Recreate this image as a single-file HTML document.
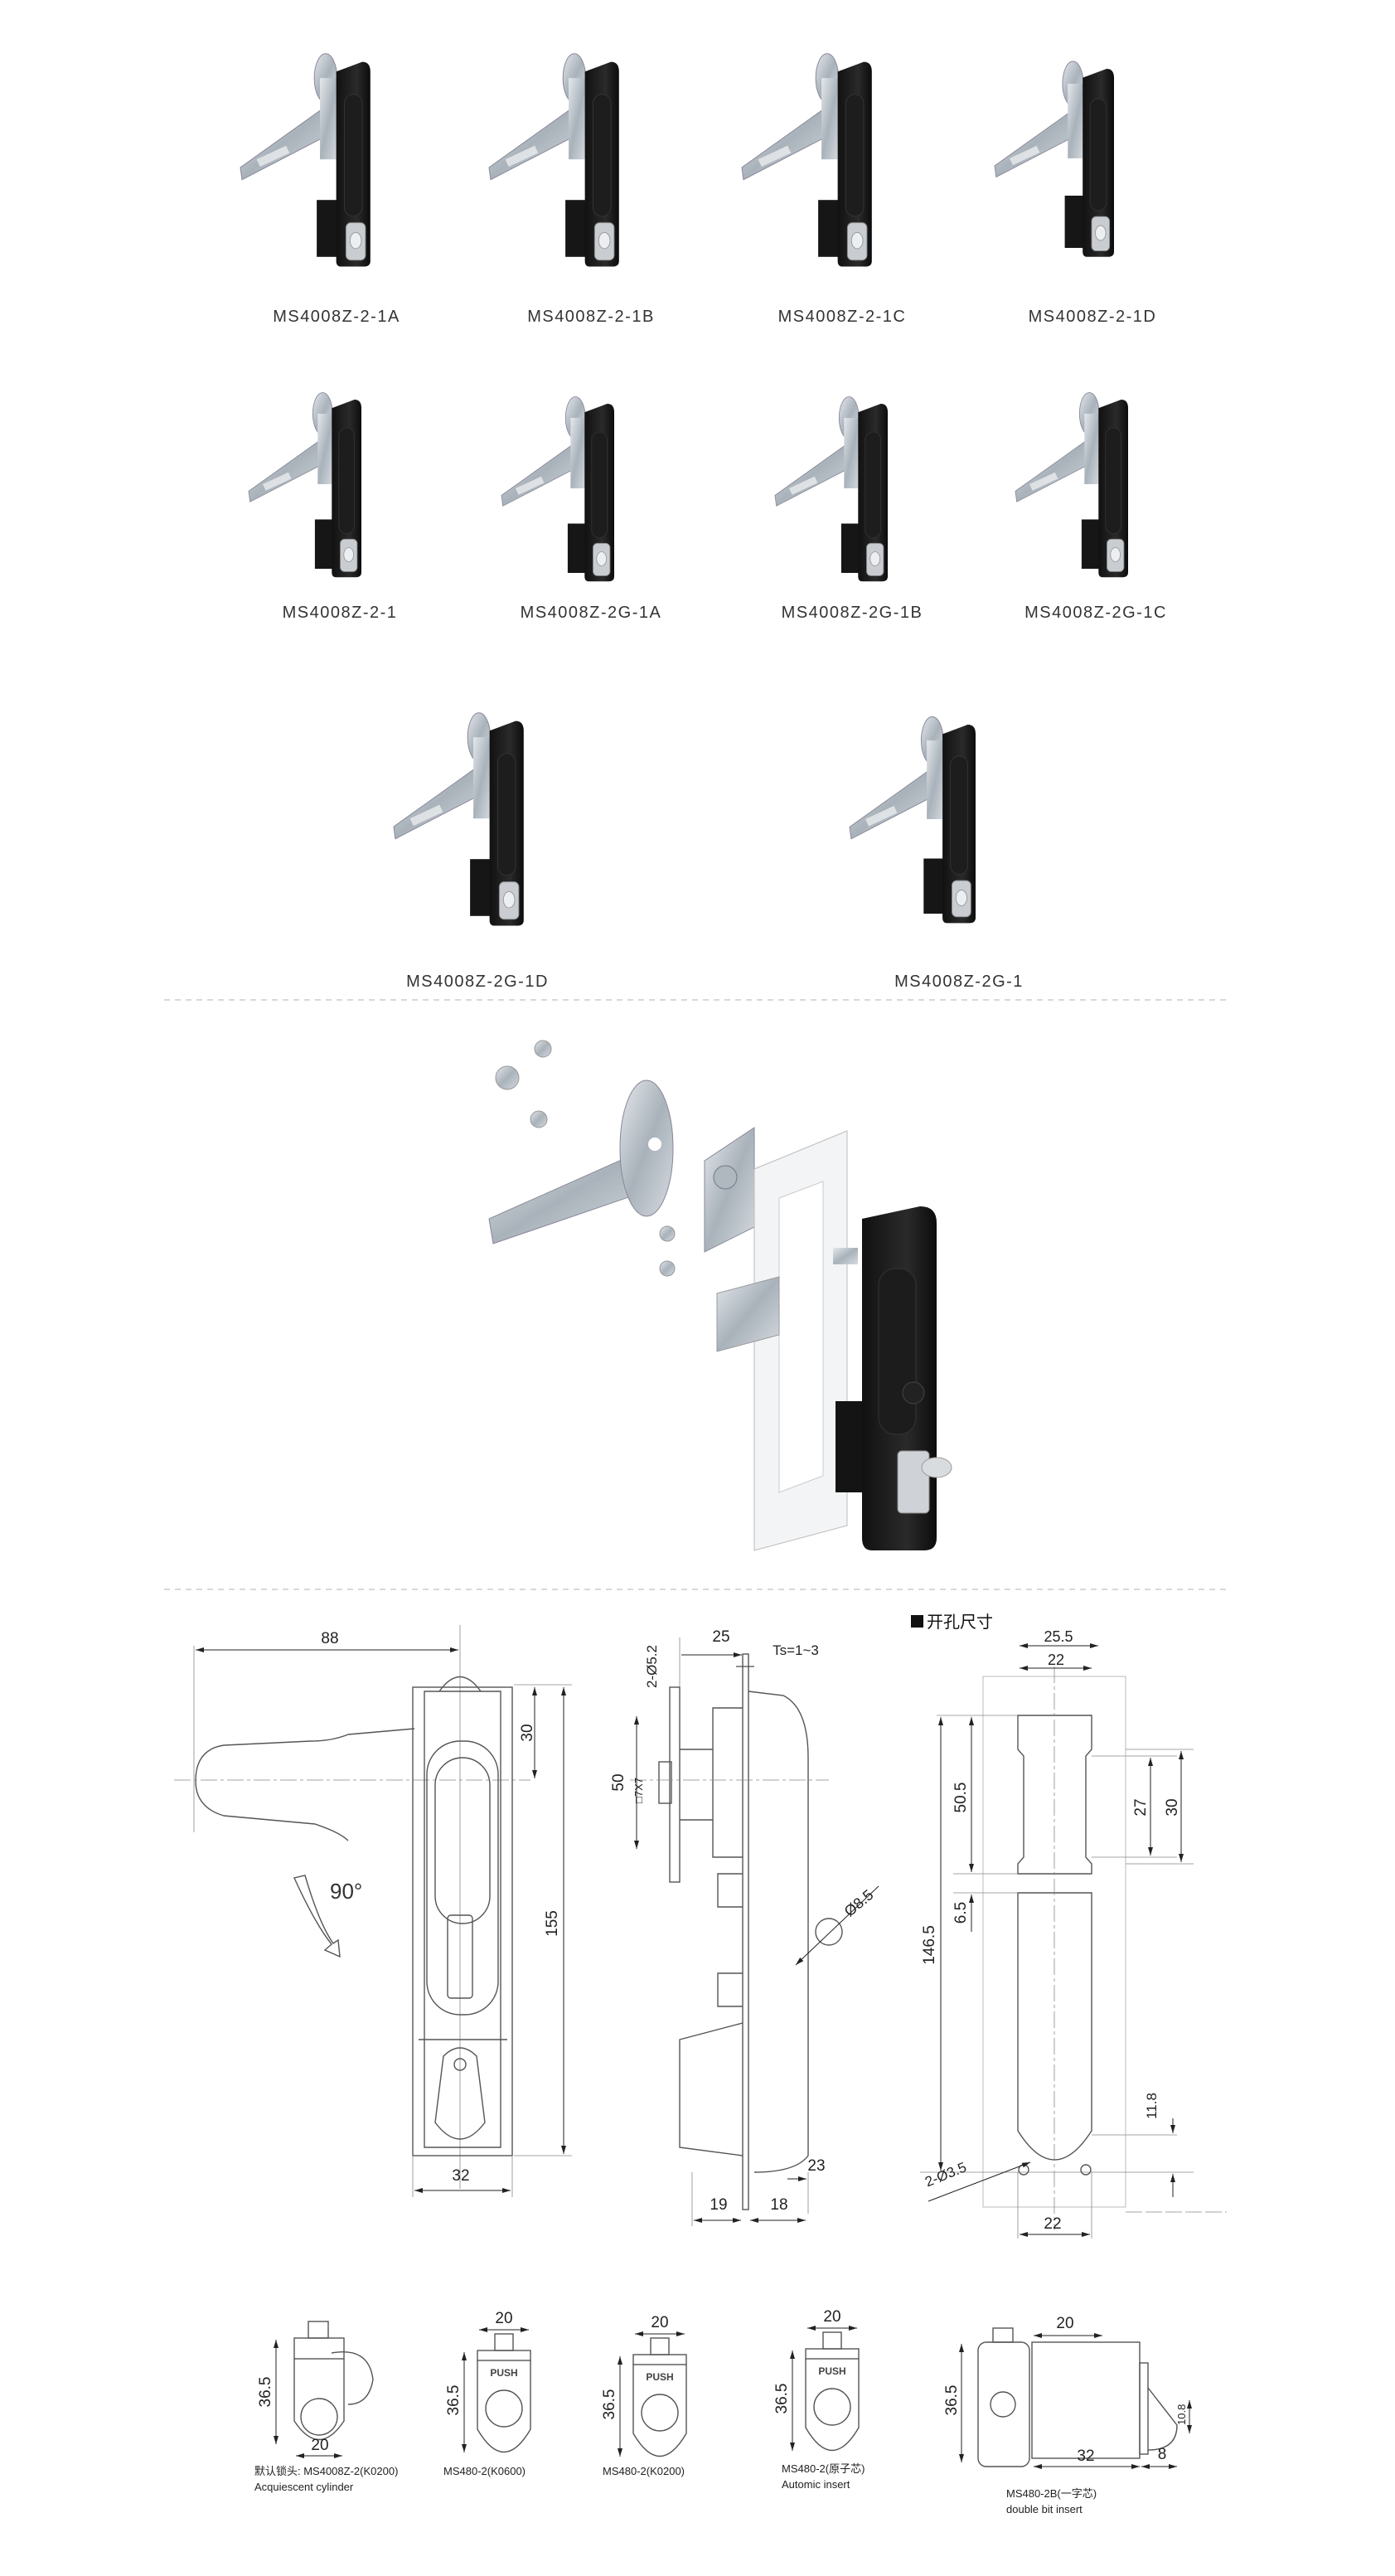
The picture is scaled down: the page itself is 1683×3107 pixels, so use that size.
<!DOCTYPE html>
<html><head><meta charset="utf-8"><style>
html,body{margin:0;padding:0;background:#fff}
svg{display:block}
.lb{font-family:"Liberation Sans","Noto Sans CJK SC",sans-serif;font-size:20px;fill:#333;letter-spacing:1.5px;text-anchor:middle}
.d{font-family:"Liberation Sans","Noto Sans CJK SC",sans-serif;font-size:19px;fill:#222;text-anchor:middle}
.s{font-family:"Liberation Sans","Noto Sans CJK SC",sans-serif;font-size:13px;fill:#222}
.ln{fill:none;stroke:#555;stroke-width:1.4}
.th{fill:none;stroke:#888;stroke-width:0.8}
</style></head><body>
<svg width="1683" height="3107" viewBox="0 0 1683 3107" xmlns="http://www.w3.org/2000/svg">
<defs>
<linearGradient id="sil" x1="0" y1="0" x2="1" y2="1"><stop offset="0" stop-color="#e4e8ec"/><stop offset="0.5" stop-color="#a9b2ba"/><stop offset="1" stop-color="#d6dbe0"/></linearGradient>
<linearGradient id="blk" x1="0" y1="0" x2="1" y2="0"><stop offset="0" stop-color="#111"/><stop offset="0.6" stop-color="#2a2a2a"/><stop offset="1" stop-color="#0c0c0c"/></linearGradient>
<marker id="ar" viewBox="0 0 10 6" refX="10" refY="3" markerWidth="10" markerHeight="6" orient="auto-start-reverse"><path d="M0,0L10,3L0,6z" fill="#222"/></marker>
<g id="prod">
 <polygon points="0,150 2,165 112,108 112,70" fill="url(#sil)" stroke="#889" stroke-width="1"/>
 <rect x="20" y="140" width="40" height="10" fill="#fff" opacity="0.6" transform="rotate(-25 20 140)"/>
 <ellipse cx="105" cy="40" rx="14" ry="30" fill="url(#sil)" stroke="#889"/>
 <rect x="98" y="40" width="22" height="100" fill="url(#sil)"/>
 <rect x="94" y="190" width="30" height="70" fill="#161616"/>
 <path d="M118,32 L150,20 Q160,20 160,32 L160,265 Q160,272 152,272 L124,272 Q118,272 118,265 Z" fill="url(#blk)"/>
 <rect x="128" y="60" width="22" height="150" rx="11" fill="#1d1d1d" stroke="#333"/>
 <rect x="130" y="218" width="24" height="46" rx="6" fill="#c9cdd1" stroke="#888"/>
 <ellipse cx="142" cy="240" rx="7" ry="10" fill="#eceff1" stroke="#999"/>
</g>
</defs>

<!-- products row 1 -->
<use href="#prod" transform="translate(290,55) scale(0.98)"/>
<use href="#prod" transform="translate(590,55) scale(0.98)"/>
<use href="#prod" transform="translate(895,55) scale(0.98)"/>
<use href="#prod" transform="translate(1200,65) scale(0.9)"/>
<text class="lb" x="406" y="388">MS4008Z-2-1A</text>
<text class="lb" x="713" y="388">MS4008Z-2-1B</text>
<text class="lb" x="1016" y="388">MS4008Z-2-1C</text>
<text class="lb" x="1318" y="388">MS4008Z-2-1D</text>
<!-- row 2 -->
<use href="#prod" transform="translate(300,465) scale(0.85)"/>
<use href="#prod" transform="translate(605,470) scale(0.85)"/>
<use href="#prod" transform="translate(935,470) scale(0.85)"/>
<use href="#prod" transform="translate(1225,465) scale(0.85)"/>
<text class="lb" x="410" y="745">MS4008Z-2-1</text>
<text class="lb" x="713" y="745">MS4008Z-2G-1A</text>
<text class="lb" x="1028" y="745">MS4008Z-2G-1B</text>
<text class="lb" x="1322" y="745">MS4008Z-2G-1C</text>
<!-- row 3 -->
<use href="#prod" transform="translate(475,850) scale(0.98)"/>
<use href="#prod" transform="translate(1025,855) scale(0.95)"/>
<text class="lb" x="576" y="1190">MS4008Z-2G-1D</text>
<text class="lb" x="1157" y="1190">MS4008Z-2G-1</text>

<line x1="198" y1="1206" x2="1482" y2="1206" stroke="#ccc" stroke-width="1.5" stroke-dasharray="7,6"/>

<!-- exploded view -->
<g>
 <circle cx="655" cy="1265" r="10" fill="url(#sil)" stroke="#999"/>
 <circle cx="612" cy="1300" r="14" fill="url(#sil)" stroke="#999"/>
 <circle cx="650" cy="1350" r="10" fill="url(#sil)" stroke="#999"/>
 <polygon points="590,1470 595,1500 770,1440 770,1390" fill="url(#sil)" stroke="#889"/>
 <ellipse cx="780" cy="1385" rx="32" ry="82" fill="url(#sil)" stroke="#889"/>
 <circle cx="790" cy="1380" r="8" fill="#fff"/>
 <polygon points="850,1400 910,1360 910,1480 850,1510" fill="url(#sil)" stroke="#889"/>
 <circle cx="875" cy="1420" r="14" fill="#b0b8bf" stroke="#778"/>
 <circle cx="805" cy="1488" r="9" fill="url(#sil)" stroke="#999"/>
 <circle cx="805" cy="1530" r="9" fill="url(#sil)" stroke="#999"/>
 <polygon points="910,1410 1022,1364 1022,1840 910,1870" fill="#f3f4f5" stroke="#bbb"/>
 <polygon points="940,1445 993,1425 993,1780 940,1800" fill="#fff" stroke="#ccc"/>
 <polygon points="865,1560 940,1540 940,1610 865,1630" fill="url(#sil)" stroke="#999"/>
 <rect x="1005" y="1505" width="30" height="20" fill="url(#sil)"/>
 <rect x="1008" y="1690" width="40" height="110" fill="#141414"/>
 <path d="M1040,1470 L1110,1455 Q1130,1455 1130,1475 L1130,1855 Q1130,1870 1115,1870 L1052,1870 Q1040,1870 1040,1855 Z" fill="url(#blk)"/>
 <rect x="1060" y="1530" width="45" height="200" rx="20" fill="#1c1c1c" stroke="#333"/>
 <circle cx="1102" cy="1680" r="13" fill="#222" stroke="#444"/>
 <rect x="1083" y="1750" width="38" height="75" rx="5" fill="#cfd3d7" stroke="#888"/>
 <ellipse cx="1130" cy="1770" rx="18" ry="12" fill="#d9dcdf" stroke="#999"/>
</g>

<line x1="198" y1="1917" x2="1482" y2="1917" stroke="#ccc" stroke-width="1.5" stroke-dasharray="7,6"/>

<!-- front view drawing -->
<g>
 <line class="th" x1="234" y1="1985" x2="234" y2="2210"/>
 <line class="th" x1="555" y1="1960" x2="555" y2="2640"/>
 <line x1="236" y1="1990" x2="553" y2="1990" stroke="#222" stroke-width="1" marker-start="url(#ar)" marker-end="url(#ar)"/>
 <text class="d" x="398" y="1982">88</text>
 <path class="ln" d="M500,2085 L420,2092 Q400,2100 375,2100 L270,2105 Q236,2110 236,2148 Q236,2180 270,2190 L380,2200 Q410,2210 420,2220"/>
 <line class="th" x1="210" y1="2147" x2="640" y2="2147" stroke-dasharray="20,4,4,4"/>
 <rect class="ln" x="498" y="2035" width="120" height="565"/>
 <path class="ln" d="M512,2040 L604,2040 L604,2590 L512,2590 Z"/>
 <path class="ln" d="M530,2040 Q555,2005 580,2040"/>
 <rect class="ln" x="515" y="2100" width="86" height="330" rx="40"/>
 <rect class="ln" x="525" y="2120" width="66" height="200" rx="33"/>
 <rect class="ln" x="540" y="2310" width="30" height="100" rx="4"/>
 <line class="ln" x1="505" y1="2460" x2="612" y2="2460"/>
 <path class="ln" d="M535,2480 Q555,2460 575,2480 L585,2560 Q555,2600 525,2560 Z"/>
 <circle class="ln" cx="555" cy="2490" r="7"/>
 <line class="th" x1="620" y1="2032" x2="690" y2="2032"/>
 <line class="th" x1="620" y1="2600" x2="690" y2="2600"/>
 <line x1="645" y1="2035" x2="645" y2="2145" stroke="#222" marker-start="url(#ar)" marker-end="url(#ar)"/>
 <text class="d" transform="translate(642,2090) rotate(-90)" y="0">30</text>
 <line x1="680" y1="2035" x2="680" y2="2598" stroke="#222" marker-start="url(#ar)" marker-end="url(#ar)"/>
 <text class="d" transform="translate(672,2320) rotate(-90)">155</text>
 <line class="th" x1="498" y1="2600" x2="498" y2="2650"/>
 <line class="th" x1="618" y1="2600" x2="618" y2="2650"/>
 <line x1="500" y1="2642" x2="616" y2="2642" stroke="#222" marker-start="url(#ar)" marker-end="url(#ar)"/>
 <text class="d" x="556" y="2630">32</text>
 <path class="ln" d="M355,2265 Q380,2320 400,2345 L392,2352 L410,2360 L408,2340 L402,2344 Q385,2320 368,2262 Z"/>
 <text x="398" y="2290" style="font-family:'Liberation Sans',sans-serif;font-size:26px;fill:#333">90°</text>
</g>

<!-- side view -->
<g>
 <line class="th" x1="820" y1="1975" x2="820" y2="2035"/>
 <line x1="822" y1="1996" x2="895" y2="1996" stroke="#222" marker-end="url(#ar)"/>
 <text class="d" x="870" y="1980">25</text>
 <text class="d" x="960" y="1996" style="font-size:17px">Ts=1~3</text>
 <line x1="888" y1="2010" x2="910" y2="2010" stroke="#222"/>
 <text class="d" transform="translate(792,2010) rotate(-90)" style="font-size:17px">2-Ø5.2</text>
 <rect class="ln" x="808" y="2035" width="12" height="235"/>
 <rect class="ln" x="896" y="1995" width="7" height="670"/>
 <path class="ln" d="M903,2040 L945,2045 Q975,2060 975,2120 L975,2600 Q960,2620 910,2620"/>
 <path class="ln" d="M896,2060 L860,2060 L860,2240 L896,2240"/>
 <path class="ln" d="M820,2110 L860,2110 M820,2195 L860,2195"/>
 <rect class="ln" x="795" y="2125" width="15" height="50"/>
 <line class="th" x1="760" y1="2147" x2="1000" y2="2147" stroke-dasharray="20,4,4,4"/>
 <line x1="768" y1="2070" x2="768" y2="2230" stroke="#222" marker-start="url(#ar)" marker-end="url(#ar)"/>
 <text class="d" transform="translate(752,2150) rotate(-90)">50</text>
 <text class="s" transform="translate(775,2175) rotate(-90)">□7X7</text>
 <path class="ln" d="M896,2260 L866,2260 L866,2300 L896,2300 M896,2380 L866,2380 L866,2420 L896,2420"/>
 <path class="ln" d="M896,2440 L820,2460 L820,2590 L896,2600"/>
 <circle class="ln" cx="1000" cy="2330" r="16"/>
 <line x1="960" y1="2370" x2="1060" y2="2275" stroke="#222" marker-start="url(#ar)"/>
 <text class="d" transform="translate(1040,2300) rotate(-40)" style="font-size:18px">Ø8.5</text>
 <line class="th" x1="975" y1="2620" x2="975" y2="2670"/>
 <line x1="950" y1="2628" x2="973" y2="2628" stroke="#222" marker-end="url(#ar)"/>
 <text class="d" x="985" y="2618">23</text>
 <line class="th" x1="835" y1="2620" x2="835" y2="2685"/>
 <line x1="837" y1="2678" x2="894" y2="2678" stroke="#222" marker-start="url(#ar)" marker-end="url(#ar)"/>
 <line x1="905" y1="2678" x2="972" y2="2678" stroke="#222" marker-start="url(#ar)" marker-end="url(#ar)"/>
 <text class="d" x="867" y="2665">19</text>
 <text class="d" x="940" y="2665">18</text>
</g>

<!-- cutout -->
<g>
 <rect x="1099" y="1948" width="15" height="15" fill="#111"/>
 <text x="1118" y="1963" style="font-family:'Noto Sans CJK SC',sans-serif;font-size:20px;fill:#111">开孔尺寸</text>
 <rect class="th" x="1186" y="2022" width="172" height="640" style="stroke:#aaa"/>
 <path class="ln" d="M1228,2069 L1317,2069 L1317,2110 L1310,2118 L1310,2240 L1317,2248 L1317,2260 L1228,2260 L1228,2248 L1235,2240 L1235,2118 L1228,2110 Z"/>
 <path class="ln" d="M1228,2283 L1317,2283 L1317,2570 Q1272,2640 1228,2570 Z"/>
 <line class="th" x1="1272" y1="2010" x2="1272" y2="2690" stroke-dasharray="20,4,4,4"/>
 <line x1="1230" y1="1985" x2="1325" y2="1985" stroke="#222" marker-start="url(#ar)" marker-end="url(#ar)"/>
 <text class="d" x="1277" y="1980" style="font-size:18px">25.5</text>
 <line x1="1230" y1="2012" x2="1317" y2="2012" stroke="#222" marker-start="url(#ar)" marker-end="url(#ar)"/>
 <text class="d" x="1274" y="2008" style="font-size:18px">22</text>
 <line class="th" x1="1130" y1="2069" x2="1228" y2="2069"/>
 <line class="th" x1="1150" y1="2260" x2="1228" y2="2260"/>
 <line class="th" x1="1150" y1="2283" x2="1228" y2="2283"/>
 <line class="th" x1="1110" y1="2620" x2="1440" y2="2620"/>
 <line x1="1172" y1="2071" x2="1172" y2="2258" stroke="#222" marker-start="url(#ar)" marker-end="url(#ar)"/>
 <text class="d" transform="translate(1165,2168) rotate(-90)">50.5</text>
 <line x1="1172" y1="2285" x2="1172" y2="2330" stroke="#222" marker-start="url(#ar)"/>
 <text class="d" transform="translate(1165,2307) rotate(-90)">6.5</text>
 <line x1="1135" y1="2071" x2="1135" y2="2618" stroke="#222" marker-start="url(#ar)" marker-end="url(#ar)"/>
 <text class="d" transform="translate(1127,2346) rotate(-90)">146.5</text>
 <line class="th" x1="1317" y1="2118" x2="1420" y2="2118"/>
 <line class="th" x1="1317" y1="2240" x2="1420" y2="2240"/>
 <line class="th" x1="1358" y1="2110" x2="1440" y2="2110"/>
 <line class="th" x1="1358" y1="2248" x2="1440" y2="2248"/>
 <line x1="1388" y1="2120" x2="1388" y2="2238" stroke="#222" marker-start="url(#ar)" marker-end="url(#ar)"/>
 <text class="d" transform="translate(1382,2180) rotate(-90)">27</text>
 <line x1="1425" y1="2112" x2="1425" y2="2246" stroke="#222" marker-start="url(#ar)" marker-end="url(#ar)"/>
 <text class="d" transform="translate(1420,2180) rotate(-90)">30</text>
 <line class="th" x1="1317" y1="2575" x2="1420" y2="2575"/>
 <line x1="1415" y1="2555" x2="1415" y2="2573" stroke="#222" marker-end="url(#ar)"/>
 <line x1="1415" y1="2650" x2="1415" y2="2622" stroke="#222" marker-end="url(#ar)"/>
 <text class="d" transform="translate(1395,2540) rotate(-90)" style="font-size:17px">11.8</text>
 <circle class="ln" cx="1235" cy="2617" r="6"/>
 <circle class="ln" cx="1310" cy="2617" r="6"/>
 <line x1="1120" y1="2655" x2="1243" y2="2608" stroke="#222" marker-end="url(#ar)"/>
 <text class="d" transform="translate(1143,2628) rotate(-22)" style="font-size:17px">2-Ø3.5</text>
 <line class="th" x1="1228" y1="2620" x2="1228" y2="2700"/>
 <line class="th" x1="1317" y1="2620" x2="1317" y2="2700"/>
 <line x1="1230" y1="2695" x2="1315" y2="2695" stroke="#222" marker-start="url(#ar)" marker-end="url(#ar)"/>
 <text class="d" x="1270" y="2688">22</text>
 <line class="th" x1="1358" y1="2668" x2="1480" y2="2668" stroke-dasharray="20,4"/>
</g>

<!-- bottom cylinders -->
<g>
 <rect class="ln" x="355" y="2820" width="60" height="25"/>
 <rect class="ln" x="372" y="2800" width="24" height="20"/>
 <path class="ln" d="M355,2845 L355,2920 Q385,2965 415,2920 L415,2845"/>
 <circle class="ln" cx="385" cy="2915" r="22"/>
 <path class="ln" d="M400,2838 Q445,2830 450,2870 Q445,2900 420,2900"/>
 <line x1="333" y1="2822" x2="333" y2="2948" stroke="#222" marker-start="url(#ar)" marker-end="url(#ar)"/>
 <text class="d" transform="translate(326,2885) rotate(-90)">36.5</text>
 <line x1="357" y1="2962" x2="413" y2="2962" stroke="#222" marker-start="url(#ar)" marker-end="url(#ar)"/>
 <text class="d" x="386" y="2955">20</text>
 <text class="s" x="307" y="2985">默认锁头: MS4008Z-2(K0200)</text>
 <text class="s" x="307" y="3004">Acquiescent cylinder</text>
</g>
<g id="cyl">
 <rect class="ln" x="576" y="2835" width="64" height="12"/>
 <rect class="ln" x="597" y="2815" width="22" height="20"/>
 <path class="ln" d="M576,2847 L576,2930 Q608,2985 640,2930 L640,2847"/>
 <text x="608" y="2866" style="font-family:'Liberation Sans',sans-serif;font-size:12px;font-weight:bold;fill:#444;text-anchor:middle">PUSH</text>
 <circle class="ln" cx="608" cy="2905" r="22"/>
 <line x1="578" y1="2810" x2="638" y2="2810" stroke="#222" marker-start="url(#ar)" marker-end="url(#ar)"/>
 <text class="d" x="608" y="2802">20</text>
 <line x1="560" y1="2837" x2="560" y2="2958" stroke="#222" marker-start="url(#ar)" marker-end="url(#ar)"/>
 <text class="d" transform="translate(553,2895) rotate(-90)">36.5</text>
</g>
<text class="s" x="535" y="2985">MS480-2(K0600)</text>
<use href="#cyl" transform="translate(188,5)"/>
<text class="s" x="727" y="2985">MS480-2(K0200)</text>
<use href="#cyl" transform="translate(396,-2)"/>
<text class="s" x="943" y="2982">MS480-2(原子芯)</text>
<text class="s" x="943" y="3001">Automic  insert</text>
<g>
 <rect class="ln" x="1180" y="2825" width="62" height="150" rx="10"/>
 <rect class="ln" x="1198" y="2808" width="24" height="17"/>
 <rect class="ln" x="1245" y="2825" width="130" height="140"/>
 <rect class="ln" x="1375" y="2850" width="10" height="110"/>
 <path class="ln" d="M1385,2880 L1420,2925 Q1420,2955 1385,2955"/>
 <circle class="ln" cx="1210" cy="2900" r="15"/>
 <line x1="1160" y1="2827" x2="1160" y2="2970" stroke="#222" marker-start="url(#ar)" marker-end="url(#ar)"/>
 <text class="d" transform="translate(1154,2895) rotate(-90)">36.5</text>
 <line x1="1247" y1="2817" x2="1330" y2="2817" stroke="#222" marker-start="url(#ar)" marker-end="url(#ar)"/>
 <text class="d" x="1285" y="2808">20</text>
 <line x1="1247" y1="2975" x2="1375" y2="2975" stroke="#222" marker-start="url(#ar)" marker-end="url(#ar)"/>
 <text class="d" x="1310" y="2968">32</text>
 <line x1="1377" y1="2975" x2="1420" y2="2975" stroke="#222" marker-start="url(#ar)" marker-end="url(#ar)"/>
 <text class="d" x="1402" y="2966">8</text>
 <line x1="1435" y1="2895" x2="1435" y2="2935" stroke="#222" marker-start="url(#ar)" marker-end="url(#ar)"/>
 <text class="s" transform="translate(1430,2925) rotate(-90)">10.8</text>
 <text class="s" x="1214" y="3012">MS480-2B(一字芯)</text>
 <text class="s" x="1214" y="3031">double bit insert</text>
</g>
</svg>
</body></html>
